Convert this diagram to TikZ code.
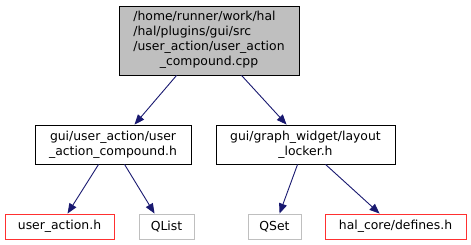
\documentclass[tikz,border=0pt]{standalone}
\usepackage{fontspec}
\setmainfont{DejaVu Sans}
\usetikzlibrary{arrows.meta}
\definecolor{edgeblue}{HTML}{191970}
\definecolor{boxgray}{HTML}{BFBFBF}
\definecolor{boxred}{HTML}{FF3030}
\tikzset{
  filebox/.style={draw, line width=0.9pt, inner sep=0pt, align=center,
    font=\fontsize{12.4}{15}\selectfont},
  mainbox/.style={filebox, fill=boxgray, draw=black},
  localbox/.style={filebox, draw=black},
  missingbox/.style={filebox, draw=boxred},
  sysbox/.style={filebox, draw=boxgray},
  dep/.style={draw=edgeblue, line width=0.9pt,
    -{Triangle[length=10pt,width=8pt,fill=edgeblue]}}
}
\begin{document}
\begin{tikzpicture}[x=1pt,y=-1pt]
  \useasboundingbox (0,0) rectangle (471,245);

  % source file
  \node[mainbox, minimum width=180pt, minimum height=69pt] (top) at (209,40.5)
    {\begin{tabular}{@{}l@{}}/home/runner/work/hal\\/hal/plugins/gui/src\\/user\_action/user\_action\\\multicolumn{1}{@{}c@{}}{\_compound.cpp}\end{tabular}};

  % direct includes
  \node[localbox, minimum width=156pt, minimum height=39pt] (ml) at (113,144.5)
    {gui/user\_action/user\\\_action\_compound.h};
  \node[localbox, minimum width=179pt, minimum height=39pt] (mr) at (305.5,144.5)
    {gui/graph\_widget/layout\\\_locker.h};

  % second-level includes
  \node[missingbox, minimum width=109pt, minimum height=25pt] (ua) at (59.5,226.5) {user\_action.h};
  \node[sysbox, minimum width=55pt, minimum height=25pt] (ql) at (166.5,226.5) {QList};
  \node[sysbox, minimum width=53pt, minimum height=25pt] (qs) at (274.5,226.5) {QSet};
  \node[missingbox, minimum width=141pt, minimum height=25pt] (df) at (395.5,226.5) {hal\_core/defines.h};

  % include edges
  \draw[dep] ([xshift=58pt]top.south west) -- ([xshift=100pt]ml.north west);
  \draw[dep] ([xshift=123pt]top.south west) -- ([xshift=71pt]mr.north west);
  \draw[dep] ([xshift=64pt]ml.south west) -- ([xshift=63pt]ua.north west);
  \draw[dep] ([xshift=90pt]ml.south west) -- ([xshift=16pt]ql.north west);
  \draw[dep] ([xshift=82pt]mr.south west) -- ([xshift=32pt]qs.north west);
  \draw[dep] ([xshift=110pt]mr.south west) -- ([xshift=55pt]df.north west);
\end{tikzpicture}
\end{document}
